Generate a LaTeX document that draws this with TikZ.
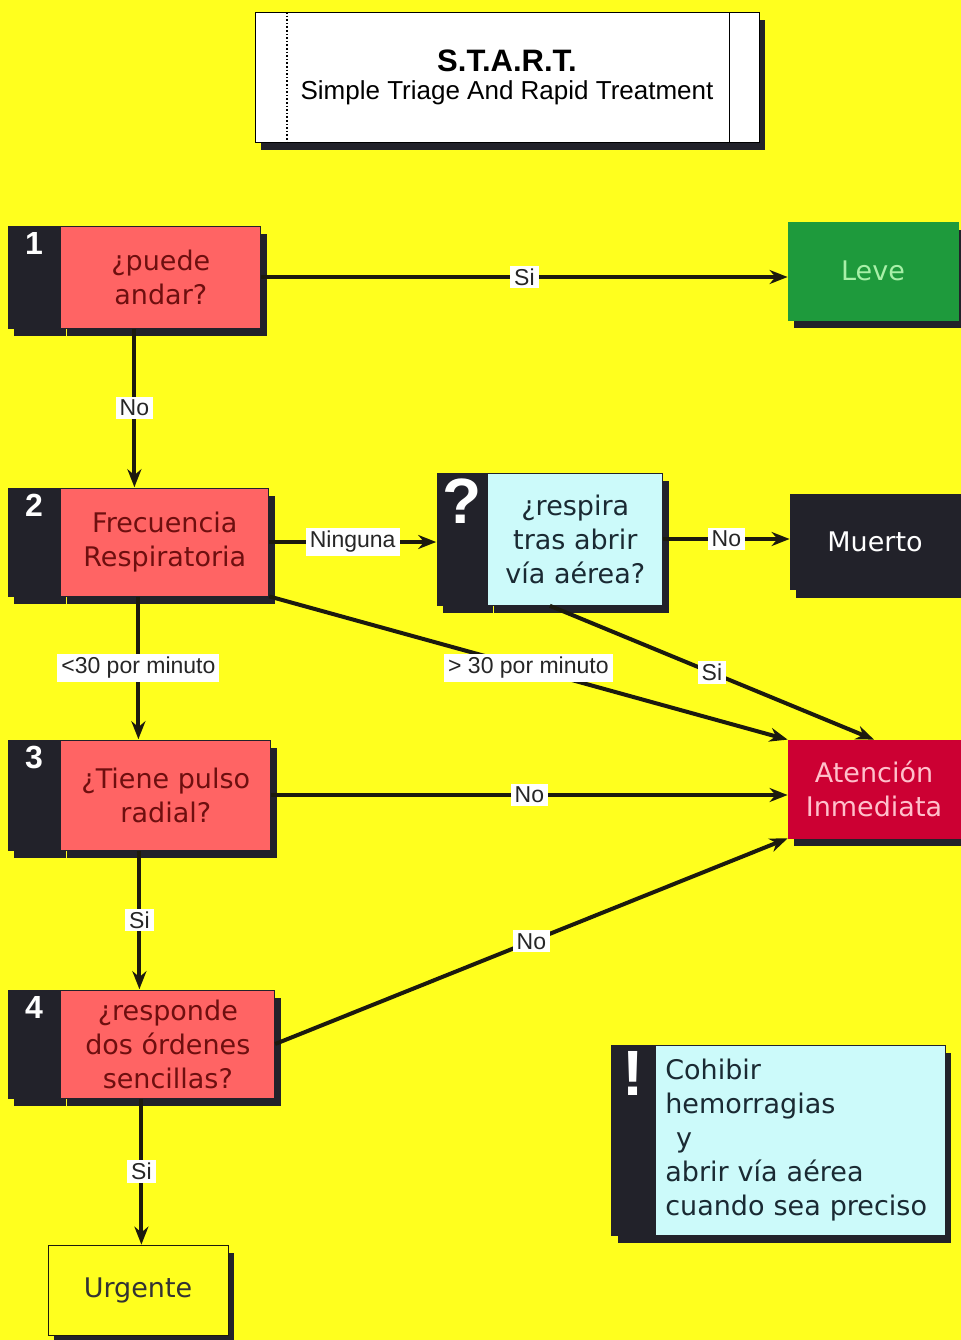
\documentclass[tikz,border=0pt]{standalone}
\usepackage{fontspec}
\setmainfont{DejaVu Sans}
\newfontfamily\arialfont{Liberation Sans}
\usetikzlibrary{positioning, arrows.meta, calc, shadows, fit}

\definecolor{bgyellow}{HTML}{FFFF1E}
\definecolor{stepred}{HTML}{FF6464}
\definecolor{steptext}{HTML}{6E0F0F}
\definecolor{stripdark}{HTML}{22222A}
\definecolor{levegreen}{HTML}{1E9A3C}
\definecolor{levetext}{HTML}{A8F0A8}
\definecolor{askcyan}{HTML}{CCFAFA}
\definecolor{asktext}{HTML}{1A2A33}
\definecolor{attred}{HTML}{CC0033}
\definecolor{atttext}{HTML}{FFC0CB}
\definecolor{linedark}{HTML}{1C1A0E}

\newcommand{\stepfont}{\fontsize{13.5}{17}\selectfont}
\newcommand{\numfont}{\arialfont\bfseries\fontsize{16}{16}\selectfont}
\newcommand{\bigmarkfont}{\arialfont\bfseries\fontsize{32}{32}\selectfont}
\newcommand{\tagfont}{\arialfont\fontsize{11.5}{12}\selectfont}
\newcommand{\titlefont}{\arialfont\fontsize{13}{13}\selectfont}

\begin{document}
\begin{tikzpicture}[
  x=0.5pt, y=-0.5pt,
  boxshadow/.style={drop shadow={shadow xshift=3pt, shadow yshift=-4pt, fill=stripdark, opacity=1}},
  numstrip/.style={rectangle, fill=stripdark, draw=stripdark, minimum width=26pt, minimum height=54pt, inner sep=0pt, boxshadow},
  numlabel/.style={anchor=north, text=white, font=\numfont, inner sep=3pt},
  question/.style={rectangle, fill=stepred, draw=stripdark, minimum width=104pt, minimum height=54pt, align=center, text=steptext, font=\stepfont, boxshadow},
  askbox/.style={rectangle, fill=askcyan, draw=stripdark, align=center, text=asktext, font=\stepfont, boxshadow},
  result/.style={rectangle, minimum width=85pt, minimum height=49pt, align=center, font=\stepfont, boxshadow},
  titlebox/.style={rectangle, fill=white, draw=black, minimum width=252pt, minimum height=65pt, align=center, font=\titlefont, boxshadow,
    path picture={
      \draw[densely dotted, thick] ([xshift=16pt]path picture bounding box.north west) -- ([xshift=16pt]path picture bounding box.south west);
      \draw ([xshift=-15pt]path picture bounding box.north east) -- ([xshift=-15pt]path picture bounding box.south east);
    }},
  whole/.style={inner sep=0pt},
  arrow/.style={-{Stealth[length=9pt, width=7pt]}, line width=2pt, draw=linedark},
  tag/.style={fill=white, inner xsep=2pt, inner ysep=1.5pt, text=black!85, font=\tagfont}
]
  \fill[bgyellow] (0,0) rectangle (961,1340);
  \useasboundingbox (0,0) rectangle (961,1340);

  % titulo
  \node[titlebox] (title) at (507,77) {{\fontsize{15.5}{15.5}\selectfont\bfseries S.T.A.R.T.}\\[1pt]Simple Triage And Rapid Treatment};

  % pasos 1-4
  \node[numstrip, minimum height=51pt, label={[numlabel]north:1}] (n1) at (34,277) {};
  \node[question, minimum width=100pt, minimum height=51pt, right=0pt of n1] (q1) {¿puede\\andar?};
  \node[fit=(n1)(q1), whole] (s1) {};

  \node[numstrip, label={[numlabel]north:2}] (n2) at (34,542) {};
  \node[question, right=0pt of n2] (q2) {Frecuencia\\Respiratoria};
  \node[fit=(n2)(q2), whole] (s2) {};

  \node[numstrip, minimum height=55pt, label={[numlabel]north:3}] (n3) at (34,795) {};
  \node[question, minimum width=105pt, minimum height=55pt, right=0pt of n3] (q3) {¿Tiene pulso\\radial?};
  \node[fit=(n3)(q3), whole] (s3) {};

  \node[numstrip, label={[numlabel]north:4}] (n4) at (34,1044) {};
  \node[question, minimum width=107pt, right=0pt of n4] (q4) {¿responde\\dos órdenes\\sencillas?};
  \node[fit=(n4)(q4), whole] (s4) {};

  % via aerea
  \node[numstrip, minimum width=25pt, minimum height=66pt, label={[numlabel, font=\bigmarkfont]north:?}] (nq) at (462,539) {};
  \node[askbox, minimum width=87.5pt, minimum height=66pt, right=0pt of nq] (cq) {¿respira\\tras abrir\\vía aérea?};
  \node[fit=(nq)(cq), whole] (sq) {};

  % resultados
  \node[result, fill=levegreen, draw=levegreen, text=levetext] (leve) at (873,271) {Leve};
  \node[result, fill=stripdark, draw=stripdark, text=white, minimum height=47.5pt] (dead) at (875,542) {Muerto};
  \node[result, fill=attred, draw=attred, text=atttext, minimum width=86pt] (att) at (874,789) {Atención\\Inmediata};
  \node[result, fill=bgyellow, draw=linedark, text=black!80, minimum width=90pt, minimum height=45pt] (urg) at (138,1290) {Urgente};

  % nota
  \node[numstrip, minimum width=21.5pt, minimum height=95pt, label={[numlabel, font=\bigmarkfont]north:!}] (nx) at (633,1140) {};
  \node[askbox, align=left, text width=135pt, inner xsep=5pt, minimum height=95pt, right=0pt of nx] (cx) {Cohibir\\hemorragias\\\hspace*{0.4em}y\\abrir vía aérea\\cuando sea preciso};

  \draw[arrow] (q1.east) -- node[tag] {Si} (q1.east -| leve.west);
  \draw[arrow] (s1.south) -- node[tag] {No} (s1.south |- s2.north);
  \draw[arrow] (q2.east) -- node[tag] {Ninguna} (q2.east -| sq.west);
  \draw[arrow] (cq.east) -- node[tag] {No} (cq.east -| dead.west);
  \draw[arrow] (s2.south) -- node[tag] {<30 por minuto} (s2.south |- s3.north);
  \draw[arrow] (q2.south east) -- node[tag] {> 30 por minuto} (att.north west);
  \draw[arrow] (sq.south) -- node[tag] {Si} (att.north);
  \draw[arrow] (q3.east) -- node[tag] {No} (q3.east -| att.west);
  \draw[arrow] (s3.south) -- node[tag] {Si} (s3.south |- s4.north);
  \draw[arrow] (q4.east) -- node[tag] {No} (att.south west);
  \draw[arrow] (s4.south) -- node[tag] {Si} (s4.south |- urg.north);
\end{tikzpicture}
\end{document}
